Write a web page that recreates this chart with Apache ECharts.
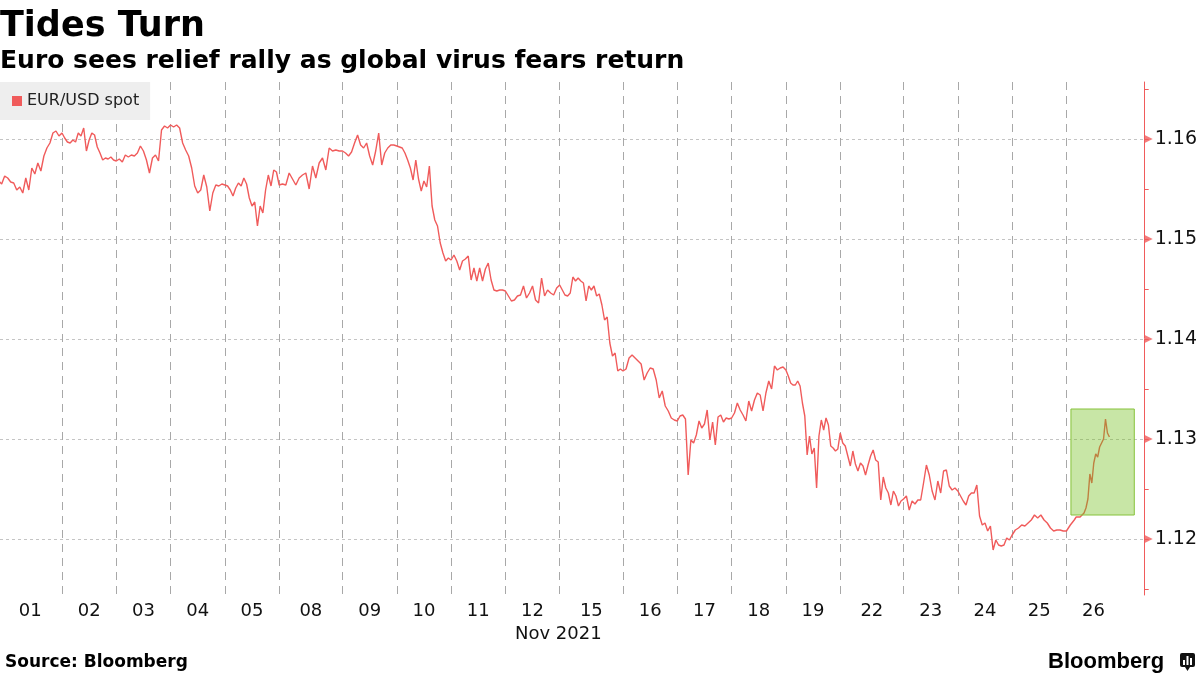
<!DOCTYPE html>
<html>
<head>
<meta charset="utf-8">
<script src="https://cdn.jsdelivr.net/npm/echarts@6/dist/echarts.min.js"></script>
<style>
html,body{margin:0;padding:0;background:#fff;}
#c{width:1200px;height:675px;}
</style>
</head>
<body>
<div id="c"></div>
<script>
// ---- categories / time layout ----
const days = ['01','02','03','04','05','08','09','10','11','12','15','16','17','18','19','22','23','24','25','26'];
// trading-session length (hours) of each day on the axis (Mondays include Sunday evening)
const dayWidths = [28,24,24,24,24,28,24,24,24,24,28,24,24,24,24,28,24,24,24,24];
const lastDayQuoteHours = 19;   // Nov 26 data ends part-way through the session
const yMajorTicks = [1.12, 1.13, 1.14, 1.15, 1.16];
const yMinorTicks = [1.115, 1.125, 1.135, 1.145, 1.155, 1.165];

// ---- EUR/USD spot readings (evenly spaced within each day) ----
const nov01 = [1.1558,1.1555,1.1563,1.1561,1.1557,1.1556,1.1549,1.1552,1.1546,1.1561,1.1549,1.1571,1.1565,1.1576,1.1568,1.1583,1.1591,1.1596,1.1606,1.1608,1.1603];
const nov02 = [1.1606,1.1601,1.1597,1.1596,1.1599,1.1597,1.1606,1.1603,1.1611,1.1588,1.1599,1.1606,1.1604,1.1592,1.1586,1.1579,1.1581,1.1580,1.1582,1.1579];
const nov03 = [1.1578,1.1580,1.1577,1.1584,1.1582,1.1584,1.1583,1.1586,1.1593,1.1588,1.1579,1.1566,1.1581,1.1584,1.1578,1.1609,1.1613,1.1611];
const nov04 = [1.1614,1.1612,1.1614,1.1611,1.1596,1.1589,1.1583,1.1571,1.1553,1.1546,1.1549,1.1564,1.1552,1.1528,1.1546,1.1554,1.1553,1.1555];
const nov05 = [1.1554,1.1553,1.1549,1.1543,1.1551,1.1556,1.1553,1.1561,1.1555,1.1541,1.1533,1.1537,1.1513,1.1533,1.1526,1.1549,1.1564,1.1553,1.1569,1.1567];
const nov08 = [1.1554,1.1555,1.1554,1.1566,1.1560,1.1554,1.1561,1.1564,1.1566,1.1550,1.1573,1.1561,1.1576,1.1581,1.1569,1.1591,1.1588,1.1589,1.1588];
const nov09 = [1.1588,1.1586,1.1583,1.1587,1.1596,1.1604,1.1594,1.1591,1.1596,1.1583,1.1574,1.1588,1.1606,1.1574,1.1586,1.1591,1.1594,1.1594];
const nov10 = [1.1593,1.1592,1.1591,1.1586,1.1579,1.1571,1.1559,1.1579,1.1560,1.1548,1.1558,1.1552,1.1573,1.1533,1.1519,1.1513,1.1496,1.1486,1.1478,1.1481];
const nov11 = [1.1479,1.1484,1.1478,1.1469,1.1478,1.1480,1.1483,1.1459,1.1471,1.1458,1.1471,1.1458,1.1470,1.1476,1.1459,1.1449,1.1448,1.1449,1.1449];
const nov12 = [1.1448,1.1443,1.1438,1.1439,1.1443,1.1444,1.1453,1.1441,1.1446,1.1453,1.1439,1.1436,1.1461,1.1443,1.1449,1.1446,1.1444,1.1451];
const nov15 = [1.1454,1.1449,1.1444,1.1443,1.1446,1.1462,1.1458,1.1461,1.1458,1.1456,1.1438,1.1453,1.1449,1.1453,1.1443,1.1445,1.1434,1.1419,1.1422,1.1396,1.1383,1.1386,1.1368,1.1370];
const nov16 = [1.1368,1.1370,1.1381,1.1384,1.1381,1.1378,1.1375,1.1359,1.1366,1.1371,1.1370,1.1359,1.1341,1.1348,1.1333,1.1328,1.1321,1.1319];
const nov17 = [1.1318,1.1323,1.1324,1.1320,1.1264,1.1299,1.1296,1.1304,1.1318,1.1311,1.1315,1.1329,1.1299,1.1317,1.1294,1.1322,1.1324,1.1317,1.1321,1.1320];
const nov18 = [1.1321,1.1326,1.1336,1.1329,1.1324,1.1318,1.1338,1.1328,1.1339,1.1346,1.1344,1.1328,1.1346,1.1358,1.1350,1.1373,1.1369,1.1371,1.1372];
const nov19 = [1.1369,1.1363,1.1356,1.1354,1.1354,1.1358,1.1353,1.1336,1.1323,1.1284,1.1303,1.1285,1.1291,1.1251,1.1303,1.1319,1.1309,1.1321,1.1314,1.1293,1.1291,1.1288,1.1290];
const nov22 = [1.1306,1.1296,1.1293,1.1283,1.1273,1.1288,1.1275,1.1268,1.1276,1.1273,1.1264,1.1274,1.1283,1.1289,1.1279,1.1277,1.1239,1.1262,1.1251,1.1246,1.1234,1.1248,1.1243,1.1233,1.1238];
const nov23 = [1.1240,1.1243,1.1229,1.1238,1.1235,1.1239,1.1239,1.1256,1.1274,1.1264,1.1248,1.1239,1.1258,1.1246,1.1268,1.1269,1.1253,1.1249,1.1251];
const nov24 = [1.1248,1.1243,1.1238,1.1234,1.1243,1.1246,1.1246,1.1254,1.1223,1.1214,1.1216,1.1208,1.1213,1.1189,1.1199,1.1194,1.1193,1.1194,1.1201,1.1199];
const nov25 = [1.1204,1.1209,1.1211,1.1214,1.1213,1.1216,1.1219,1.1224,1.1221,1.1224,1.1219,1.1216,1.1211,1.1208,1.1209,1.1209,1.1208];
const nov26 = [1.1208,1.1211,1.1214,1.1216,1.1219,1.1222,1.1223,1.1222,1.1224,1.1226,1.1231,1.1240,1.1265,1.1256,1.1276,1.1285,1.1282,1.1292,1.1290,1.1300,1.1320,1.1306,1.1302];
const dayValues = [nov01,nov02,nov03,nov04,nov05,nov08,nov09,nov10,nov11,nov12,nov15,nov16,nov17,nov18,nov19,nov22,nov23,nov24,nov25,nov26];

// highlighted rally window (hours on axis, price range)
const highlight = { x0: 474, x1: 502, yTop: 1.1330, yBottom: 1.1224 };

// ---- build series data ----
const lineData = [];
const centers = [];
const boundaries = [];
let start = 0;
dayValues.forEach((vals, i) => {
  const w = dayWidths[i];
  const isLast = i === dayValues.length - 1;
  const span = isLast ? lastDayQuoteHours : w;
  const step = isLast ? span / (vals.length - 1) : span / vals.length;
  vals.forEach((v, k) => lineData.push([start + k * step, v]));
  centers.push(start + w / 2);
  start += w;
  if (!isLast) boundaries.push(start);
});

const X_MIN = 0.6, X_MAX = 506.6, Y_MIN = 1.1144, Y_MAX = 1.1657;
const RED = '#f05b5b';
const FONT = "'DejaVu Sans', Verdana, sans-serif";

const chart = echarts.init(document.getElementById('c'), null, {renderer: 'canvas'});
chart.setOption({
  animation: false,
  backgroundColor: '#ffffff',
  grid: { left: 0, right: 55, top: 82, bottom: 80, containLabel: false },
  legend: {
    data: ['EUR/USD spot'],
    left: 0, top: 82,
    backgroundColor: '#eeeeee',
    padding: [11, 11, 11, 12],
    icon: 'rect', itemWidth: 10, itemHeight: 10,
    textStyle: { fontFamily: FONT, fontSize: 16, color: '#222' },
    selectedMode: false
  },
  xAxis: [{
    type: 'value', min: X_MIN, max: X_MAX,
    axisLine: { show: false },
    axisTick: { show: false, customValues: boundaries },
    splitLine: { show: true, lineStyle: { color: '#a8a8a8', type: [8, 6], width: 1 } },
    axisLabel: {
      customValues: centers,
      formatter: v => days[centers.indexOf(v)] || '',
      fontFamily: FONT, fontSize: 18, color: '#111', margin: 7
    }
  }],
  yAxis: [{
    type: 'value', position: 'right', min: Y_MIN, max: Y_MAX,
    axisLine: { show: true, lineStyle: { color: RED, width: 1 } },
    axisTick: { show: true, customValues: yMajorTicks, length: 4, lineStyle: { color: RED } },
    axisLabel: {
      customValues: yMajorTicks,
      formatter: v => v.toFixed(2),
      fontFamily: FONT, fontSize: 19, color: '#111', margin: 10
    },
    splitLine: { show: true, lineStyle: { color: '#c4c4c4', type: [3, 3], width: 1 } }
  }, {
    type: 'value', position: 'right', min: Y_MIN, max: Y_MAX,
    axisLine: { show: false },
    axisTick: { show: true, customValues: yMinorTicks, length: 4, lineStyle: { color: RED } },
    axisLabel: { show: false },
    splitLine: { show: false }
  }],
  series: [{
    name: 'EUR/USD spot',
    type: 'line',
    data: lineData,
    showSymbol: false,
    symbol: 'none',
    lineStyle: { color: RED, width: 1.4 },
    itemStyle: { color: RED },
    z: 2
  }, {
    name: 'ticks',
    type: 'scatter',
    data: yMajorTicks.map(v => [X_MAX, v]),
    symbol: 'triangle',
    symbolRotate: -90,
    symbolSize: [8, 8],
    symbolOffset: [4, 0],
    itemStyle: { color: RED },
    clip: false,
    silent: true,
    z: 10,
    markArea: {
      silent: true,
      z: 10,
      itemStyle: { color: 'rgba(110,190,20,0.38)', borderColor: '#86c23a', borderWidth: 1 },
      data: [[{ xAxis: highlight.x0, yAxis: highlight.yTop }, { xAxis: highlight.x1, yAxis: highlight.yBottom }]]
    }
  }],
  graphic: [
    { type: 'text', left: 0, top: 9, style: { text: 'Tides Turn', font: "bold 35px 'DejaVu Sans'", fill: '#000' } },
    { type: 'text', left: 0, top: 49, style: { text: 'Euro sees relief rally as global virus fears return', font: "bold 25px 'DejaVu Sans'", fill: '#000' } },
    { type: 'text', left: 515, top: 625, style: { text: 'Nov 2021', font: "18px 'DejaVu Sans'", fill: '#111' } },
    { type: 'text', left: 5, top: 654, style: { text: 'Source: Bloomberg', font: "bold 17px 'DejaVu Sans'", fill: '#000' } },
    { type: 'text', left: 1048, top: 651, style: { text: 'Bloomberg', font: "bold 22px 'Liberation Sans', Arial, sans-serif", fill: '#000' } },
    { type: 'group', left: 1180, top: 653, children: [
      { type: 'rect', shape: { x: 0, y: 0, width: 15, height: 14, r: 2 }, style: { fill: '#111' } },
      { type: 'polygon', shape: { points: [[5, 14], [10, 14], [7.5, 18]] }, style: { fill: '#111' } },
      { type: 'rect', shape: { x: 3, y: 7, width: 2, height: 5 }, style: { fill: '#fff' } },
      { type: 'rect', shape: { x: 6.5, y: 3, width: 2, height: 9 }, style: { fill: '#fff' } },
      { type: 'rect', shape: { x: 10, y: 5, width: 2, height: 7 }, style: { fill: '#fff' } }
    ]}
  ]
});
</script>
</body>
</html>
